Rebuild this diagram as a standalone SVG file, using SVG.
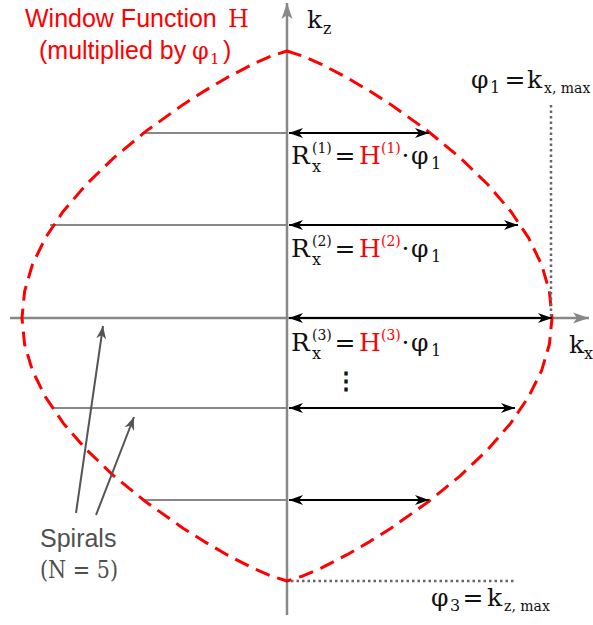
<svg xmlns="http://www.w3.org/2000/svg" width="593" height="625" viewBox="0 0 593 625">
<style>
.sans{font-family:"Liberation Sans",Arial,sans-serif}
.math{font-family:"DejaVu Serif","Liberation Serif",serif;fill:#111}
.red{fill:#ff0000}
.axis{stroke:#888;stroke-width:2.5;fill:none}
.spiral{stroke:#888;stroke-width:2;fill:none}
.rx{stroke:#000;stroke-width:2;fill:none}
.ptr{stroke:#555;stroke-width:2;fill:none}
.dot{stroke:#666;stroke-width:2.5;stroke-dasharray:2.5 3;fill:none}
.win{stroke:#ff0000;stroke-width:3;stroke-dasharray:15 8;fill:none;stroke-linejoin:round}
</style>
<defs>
<marker id="ah" markerUnits="userSpaceOnUse" viewBox="-15 -6 16 12" refX="0" refY="0" markerWidth="16" markerHeight="12" orient="auto-start-reverse">
<path d="M0,0 L-14,-5 L-10,0 L-14,5 Z" fill="#000"/>
</marker>
<marker id="axh" markerUnits="userSpaceOnUse" viewBox="-17 -7 18 14" refX="0" refY="0" markerWidth="18" markerHeight="14" orient="auto">
<path d="M0,0 L-16,-5.5 L-12,0 L-16,5.5 Z" fill="#888"/>
</marker>
<marker id="ph" markerUnits="userSpaceOnUse" viewBox="-15 -6 16 12" refX="0" refY="0" markerWidth="16" markerHeight="12" orient="auto">
<path d="M0,0 L-13,-5 L-9,0 L-13,5 Z" fill="#555"/>
</marker>
</defs>

<g id="axes">
<line class="axis" x1="287" y1="615" x2="287" y2="3" marker-end="url(#axh)"/>
<line class="axis" x1="10" y1="318" x2="589" y2="318" marker-end="url(#axh)"/>
</g>

<g id="spirals">
<line class="spiral" x1="142" y1="133" x2="287" y2="133"/>
<line class="spiral" x1="50" y1="225" x2="287" y2="225"/>
<line class="spiral" x1="52" y1="408" x2="287" y2="408"/>
<line class="spiral" x1="142" y1="500" x2="287" y2="500"/>
</g>

<g id="window">
<path class="win" d="M287,51 L303.6,56.3 L321.6,64.4 L347.1,77.7 L369.7,91.1 L390.6,104.4 L427.9,131.1 L460.2,157.8 L487.8,184.5 L510.7,211.2 L528.6,237.9 L541.6,264.6 L549.4,291.3 L552,318 L549.4,344.3 L541.6,370.6 L528.6,396.9 L510.7,423.2 L487.8,449.5 L460.2,475.8 L427.9,502.1 L390.6,528.4 L369.7,541.6 L347.1,554.7 L321.6,567.9 L303.6,575.7 L287,581 L270.4,575.7 L252.4,567.9 L226.9,554.7 L204.3,541.6 L183.4,528.4 L146.1,502.1 L113.8,475.8 L86.2,449.5 L63.3,423.2 L45.4,396.9 L32.4,370.6 L24.6,344.3 L22,318 L24.6,291.3 L32.4,264.6 L45.4,237.9 L63.3,211.2 L86.2,184.5 L113.8,157.8 L146.1,131.1 L183.4,104.4 L204.3,91.1 L226.9,77.7 L252.4,64.4 L270.4,56.3 Z"/>
</g>

<g id="limits">
<line class="dot" x1="551" y1="105" x2="551" y2="316"/>
<line class="dot" x1="291" y1="581" x2="514" y2="581"/>
</g>

<g id="connectors">
<line class="rx" x1="289" y1="133" x2="429" y2="133" marker-start="url(#ah)" marker-end="url(#ah)"/>
<line class="rx" x1="289" y1="225" x2="518" y2="225" marker-start="url(#ah)" marker-end="url(#ah)"/>
<line class="rx" x1="289" y1="318" x2="552" y2="318" marker-start="url(#ah)" marker-end="url(#ah)"/>
<line class="rx" x1="289" y1="408" x2="515" y2="408" marker-start="url(#ah)" marker-end="url(#ah)"/>
<line class="rx" x1="289" y1="500" x2="429" y2="500" marker-start="url(#ah)" marker-end="url(#ah)"/>
<line class="ptr" x1="76" y1="513" x2="103" y2="326" marker-end="url(#ph)"/>
<line class="ptr" x1="96" y1="515" x2="134" y2="417" marker-end="url(#ph)"/>
</g>

<g id="title">
<text class="sans red" x="25" y="27" font-size="25">Window Function <tspan class="math red" x="228" font-size="24">H</tspan></text>
<text class="sans red" x="39" y="59" font-size="25">(multiplied by <tspan class="math red" x="192" font-size="24">φ</tspan><tspan class="math red" x="210" y="64" font-size="15">1</tspan><tspan x="223" y="59">)</tspan></text>
</g>

<g id="kz">
<text class="math" x="307" y="28" font-size="25">k<tspan x="323" y="34" font-size="16">z</tspan></text>
</g>
<g id="kx">
<text class="math" x="569" y="353" font-size="25">k<tspan x="584" y="359" font-size="16">x</tspan></text>
</g>

<g id="phi1">
<text class="math" x="471" y="88" font-size="25">φ<tspan x="490" y="93" font-size="16">1</tspan><tspan x="515" y="88" text-anchor="middle">=</tspan><tspan x="527" y="88">k</tspan><tspan x="544" y="93" font-size="14">x, max</tspan></text>
</g>
<g id="phi3">
<text class="math" x="431" y="606" font-size="25">φ<tspan x="450" y="611" font-size="16">3</tspan><tspan x="473" y="606" text-anchor="middle">=</tspan><tspan x="487" y="606">k</tspan><tspan x="504" y="611" font-size="14">z, max</tspan></text>
</g>

<g id="label1">
<text class="math" font-size="25"><tspan x="291" y="164">R</tspan><tspan x="312" y="153" font-size="14">(1)</tspan><tspan x="312" y="172" font-size="16">x</tspan><tspan x="345" y="164" text-anchor="middle">=</tspan><tspan class="red" x="359" y="164">H</tspan><tspan class="red" x="381" y="153" font-size="14">(1)</tspan><tspan x="405.5" y="164" text-anchor="middle">·</tspan><tspan x="411" y="164">φ</tspan><tspan x="431" y="169" font-size="16">1</tspan></text>
</g>
<g id="label2">
<text class="math" font-size="25"><tspan x="291" y="257">R</tspan><tspan x="312" y="246" font-size="14">(2)</tspan><tspan x="312" y="265" font-size="16">x</tspan><tspan x="345" y="257" text-anchor="middle">=</tspan><tspan class="red" x="359" y="257">H</tspan><tspan class="red" x="381" y="246" font-size="14">(2)</tspan><tspan x="405.5" y="257" text-anchor="middle">·</tspan><tspan x="411" y="257">φ</tspan><tspan x="431" y="262" font-size="16">1</tspan></text>
</g>
<g id="label3">
<text class="math" font-size="25"><tspan x="291" y="351">R</tspan><tspan x="312" y="340" font-size="14">(3)</tspan><tspan x="312" y="359" font-size="16">x</tspan><tspan x="345" y="351" text-anchor="middle">=</tspan><tspan class="red" x="359" y="351">H</tspan><tspan class="red" x="381" y="340" font-size="14">(3)</tspan><tspan x="405.5" y="351" text-anchor="middle">·</tspan><tspan x="411" y="351">φ</tspan><tspan x="431" y="356" font-size="16">1</tspan></text>
</g>
<g id="ellipsis">
<text class="math" x="346" y="389" font-size="24" font-weight="bold" text-anchor="middle">⋮</text>
</g>

<g id="spirals-label">
<text class="sans" x="40" y="547" font-size="25" fill="#505050">Spirals</text>
<text class="math" x="40" y="578" font-size="24" textLength="78" lengthAdjust="spacingAndGlyphs" style="fill:#505050">(N = 5)</text>
</g>
</svg>
